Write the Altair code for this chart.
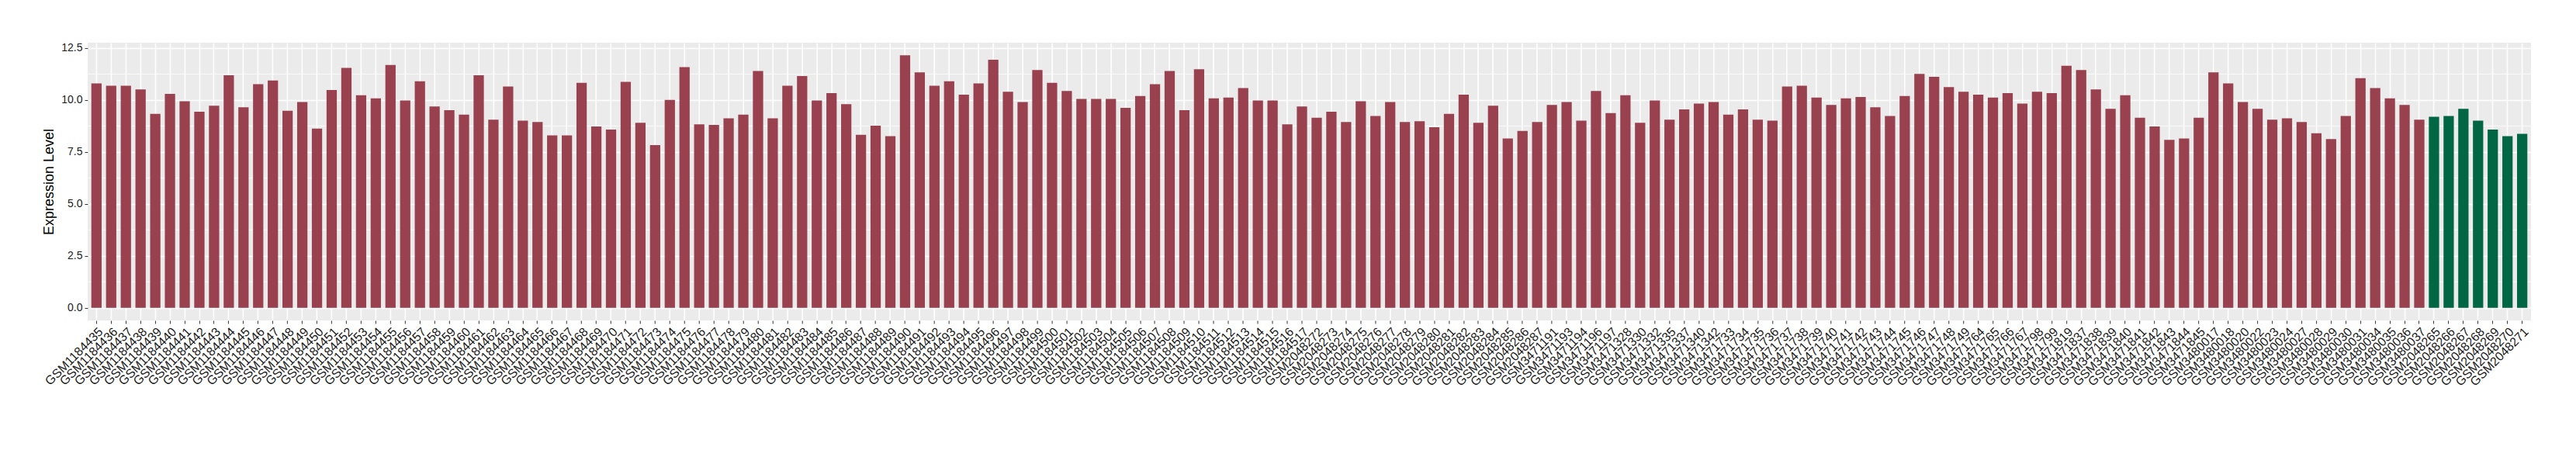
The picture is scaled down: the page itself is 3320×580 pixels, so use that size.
import altair as alt
import pandas as pd

samples = (
    [f"GSM{n}" for n in range(1184435, 1184518)]
    + [f"GSM{n}" for n in range(2048272, 2048288)]
    + ["GSM3471191", "GSM3471193", "GSM3471194", "GSM3471196", "GSM3471197"]
    + ["GSM3471328", "GSM3471330", "GSM3471332", "GSM3471335", "GSM3471337", "GSM3471340", "GSM3471342"]
    + [f"GSM{n}" for n in range(3471733, 3471750)]
    + ["GSM3471764", "GSM3471765", "GSM3471766", "GSM3471767", "GSM3471798", "GSM3471799", "GSM3471819"]
    + [f"GSM{n}" for n in range(3471837, 3471846)]
    + ["GSM3480017", "GSM3480018", "GSM3480020", "GSM3480022", "GSM3480023", "GSM3480024",
       "GSM3480027", "GSM3480028", "GSM3480029", "GSM3480030", "GSM3480031", "GSM3480034",
       "GSM3480035", "GSM3480036", "GSM3480037"]
    + [f"GSM{n}" for n in range(2048265, 2048272)]
)

expression = [
    10.80, 10.69, 10.69, 10.51, 9.33, 10.30, 9.94, 9.44, 9.73, 11.19,
    9.65, 10.76, 10.94, 9.48, 9.90, 8.62, 10.48, 11.55, 10.23, 10.08,
    11.69, 9.98, 10.90, 9.69, 9.51, 9.30, 11.19, 9.05, 10.65, 9.01,
    8.94, 8.30, 8.30, 10.83, 8.73, 8.58, 10.87, 8.90, 7.83, 10.01,
    11.58, 8.83, 8.80, 9.12, 9.30, 11.40, 9.12, 10.69, 11.15, 9.98,
    10.33, 9.80, 8.33, 8.76, 8.26, 12.15, 11.33, 10.69, 10.90, 10.26,
    10.80, 11.94, 10.40, 9.90, 11.44, 10.83, 10.44, 10.05, 10.05, 10.05,
    9.62, 10.19, 10.76, 11.40, 9.51, 11.48, 10.08, 10.12, 10.58, 9.98,
    9.98, 8.83, 9.69, 9.15, 9.44, 8.94, 9.94, 9.23, 9.90, 8.94,
    8.98, 8.69, 9.33, 10.26, 8.90, 9.73, 8.15, 8.51, 8.94, 9.76,
    9.90, 9.01, 10.44, 9.37, 10.23, 8.90, 9.98, 9.05, 9.55, 9.83,
    9.90, 9.30, 9.55, 9.05, 9.01, 10.65, 10.69, 10.12, 9.76, 10.08,
    10.15, 9.65, 9.23, 10.19, 11.26, 11.12, 10.62, 10.40, 10.26, 10.12,
    10.33, 9.83, 10.40, 10.33, 11.65, 11.44, 10.51, 9.58, 10.23, 9.15,
    8.73, 8.08, 8.15, 9.15, 11.33, 10.80, 9.90, 9.58, 9.05, 9.12,
    8.94, 8.40, 8.12, 9.23, 11.05, 10.58, 10.08, 9.76, 9.05,
    9.19, 9.23, 9.58, 9.01, 8.58, 8.26, 8.37,
]

groups = ["Tumor"] * 159 + ["Normal"] * 7

y_ticks = [0, 2.5, 5, 7.5, 10, 12.5]
y_minor = [1.25, 3.75, 6.25, 8.75, 11.25]

df = pd.DataFrame({"sample": samples, "value": expression, "group": groups})
minor_df = pd.DataFrame({"minor": y_minor})

y_scale = alt.Scale(domain=[-0.6075, 12.7575], nice=False, zero=False)

minor = alt.Chart(minor_df).mark_rule(color="white", strokeWidth=0.8).encode(
    y=alt.Y("minor:Q", scale=y_scale)
)

bars = alt.Chart(df).mark_bar().encode(
    x=alt.X(
        "sample:N",
        sort=samples,
        scale=alt.Scale(paddingInner=0.3, paddingOuter=0.25),
        axis=alt.Axis(
            title=None,
            labelAngle=-45,
            labelAlign="right",
            labelBaseline="top",
            labelFont="Liberation Sans",
            labelFontSize=16,
            labelColor="#1a1a1a",
            labelPadding=2,
            labelOverlap=False,
            bandPosition=0.5,
            grid=True,
            gridColor="white",
            gridWidth=1.6,
            domain=False,
            ticks=True,
            tickColor="#333333",
            tickSize=4,
        ),
    ),
    y=alt.Y(
        "value:Q",
        scale=y_scale,
        axis=alt.Axis(
            title="Expression Level",
            values=y_ticks,
            format=".1f",
            labelFont="Liberation Sans",
            labelFontSize=14,
            labelColor="#1a1a1a",
            labelPadding=3,
            titleFont="Liberation Sans",
            titleFontSize=18,
            titleFontWeight="normal",
            titleColor="black",
            titlePadding=6,
            grid=True,
            gridColor="white",
            gridWidth=1.6,
            domain=False,
            tickColor="#333333",
            tickSize=4,
        ),
    ),
    y2=alt.datum(0),
    color=alt.Color(
        "group:N",
        scale=alt.Scale(domain=["Tumor", "Normal"], range=["#99414F", "#006643"]),
        legend=None,
    ),
)

chart = (
    alt.layer(minor, bars)
    .properties(
        width=3150,
        height=358,
        autosize=alt.AutoSizeParams(type="none"),
        padding={"left": 105, "top": 47, "right": 50, "bottom": 150},
        background="white",
    )
    .configure_view(fill="#EBEBEB", strokeWidth=0)
)

chart.save("out.html", embed_options={"renderer": "svg", "actions": False})
